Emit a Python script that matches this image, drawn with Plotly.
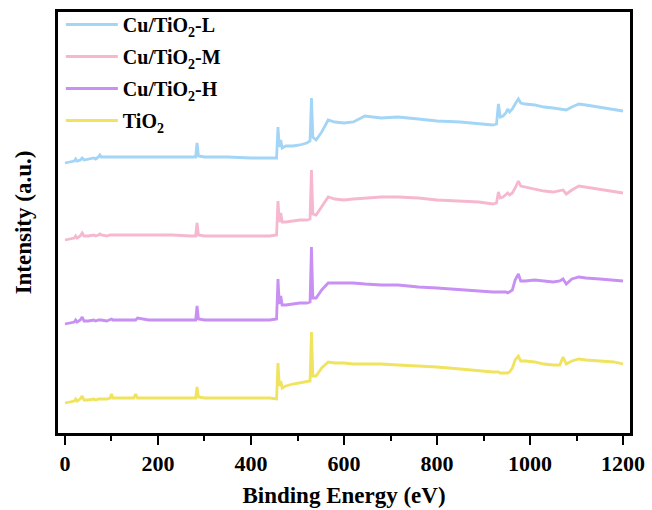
import plotly.graph_objects as go

energy = [0, 10, 20, 23, 26, 33, 37, 41, 50, 62,
          66, 72, 75, 78, 90, 97, 100, 103, 120, 148,
          152, 156, 180, 230, 270, 281, 284, 287, 300, 350,
          400, 440, 455, 458, 461, 464, 467, 475, 490, 505,
          520, 527, 530, 533, 540, 552, 566, 580, 600, 620,
          645, 680, 716, 760, 800, 850, 890, 920, 928, 932,
          936, 942, 948, 952, 956, 962, 968, 975, 980, 990,
          1010, 1030, 1050, 1064, 1071, 1078, 1090, 1105, 1120, 1150,
          1180, 1200]

cu_tio2_L = [270, 271, 272, 274, 272, 273, 275, 273, 274, 275,
             274, 276, 278, 276, 276, 276, 276, 276, 276, 276,
             276, 276, 276, 276, 276, 276, 290, 277, 276, 276,
             275, 275, 275, 306, 286, 293, 285, 287, 287, 288,
             290, 292, 335, 296, 293, 301, 313, 311, 310, 311,
             317, 315, 316, 314, 312, 311, 309, 308, 309, 329,
             316, 317, 320, 324, 321, 324, 329, 334, 330, 329,
             328, 326, 325, 324, 323, 323, 326, 329, 328, 326,
             324, 322]

cu_tio2_M = [193, 194, 195, 197, 195, 197, 200, 197, 197, 198,
             197, 198, 199, 198, 197, 198, 198, 198, 198, 198,
             198, 198, 198, 198, 197, 197, 210, 198, 197, 197,
             197, 197, 198, 232, 211, 220, 211, 211, 212, 213,
             213, 214, 263, 219, 218, 226, 236, 234, 233, 234,
             235, 236, 236, 235, 233, 232, 231, 229, 230, 241,
             235, 236, 238, 240, 238, 240, 245, 252, 247, 246,
             244, 242, 241, 242, 243, 239, 243, 247, 246, 244,
             242, 240]

cu_tio2_H = [109, 110, 111, 113, 111, 113, 116, 112, 112, 113,
             112, 113, 113, 113, 112, 113, 114, 113, 113, 113,
             113, 115, 113, 113, 113, 113, 127, 114, 113, 113,
             113, 113, 114, 154, 129, 137, 128, 128, 129, 130,
             130, 131, 186, 135, 135, 143, 150, 150, 150, 150,
             149, 148, 148, 146, 145, 143, 142, 141, 141, 141,
             141, 141, 141, 140, 141, 143, 153, 159, 152, 152,
             153, 152, 151, 152, 154, 149, 154, 156, 155, 154,
             153, 152]

tio2 = [30, 31, 32, 34, 32, 34, 37, 33, 33, 34,
        33, 34, 34, 34, 34, 35, 39, 35, 35, 35,
        39, 35, 35, 35, 35, 35, 46, 36, 35, 35,
        35, 35, 34, 70, 47, 52, 45, 47, 49, 50,
        51, 52, 101, 57, 57, 65, 71, 70, 70, 69,
        69, 69, 68, 67, 66, 64, 62, 61, 61, 61,
        60, 60, 60, 60, 61, 65, 73, 77, 72, 72,
        71, 69, 68, 68, 76, 69, 72, 74, 73, 72,
        71, 69]

series_names = ["Cu/TiO<sub>2</sub>-L", "Cu/TiO<sub>2</sub>-M",
                "Cu/TiO<sub>2</sub>-H", "TiO<sub>2</sub>"]
series_values = [cu_tio2_L, cu_tio2_M, cu_tio2_H, tio2]
colors = ["#a3d5f7", "#f6b8cf", "#c890f3", "#f0e35e"]

x_ticks = [0, 200, 400, 600, 800, 1000, 1200]

FONT = "Liberation Serif"

fig = go.Figure()
for i, (name, vals, col) in enumerate(zip(series_names, series_values, colors)):
    fig.add_trace(go.Scatter(
        x=energy, y=vals, mode="lines", name=name,
        line=dict(color=col, width=2.8),
        legendgroup=f"g{i}",
    ))

fig.update_layout(
    width=652, height=510,
    margin=dict(l=58, r=22, t=2, b=77),
    plot_bgcolor="white", paper_bgcolor="white",
    font=dict(family=FONT, color="black"),
    showlegend=True,
    legend=dict(
        x=0.005, y=0.993, xanchor="left", yanchor="top",
        font=dict(family=FONT, size=20, color="black", weight="bold"),
        bgcolor="rgba(0,0,0,0)", borderwidth=0,
        traceorder="grouped", tracegroupgap=3,
        itemwidth=52,
    ),
    xaxis=dict(
        range=[-15, 1215],
        tickmode="array", tickvals=x_ticks,
        ticktext=[str(v) for v in x_ticks],
        ticks="outside", ticklen=9, tickwidth=2, tickcolor="black",
        minor=dict(ticks="outside", ticklen=5, tickwidth=2, tickcolor="black",
                   tickmode="array", tickvals=[100, 300, 500, 700, 900, 1100]),
        showline=True, linewidth=2.5, linecolor="black", mirror=True,
        showgrid=False, zeroline=False,
        tickfont=dict(family=FONT, size=22, color="black", weight="bold"),
        title=dict(text="Binding Energy (eV)",
                   font=dict(family=FONT, size=23, color="black", weight="bold"),
                   standoff=12),
    ),
    yaxis=dict(
        range=[0, 421],
        domain=[0, 421 / 431],
        showticklabels=False, ticks="",
        showline=True, linewidth=2.5, linecolor="black", mirror=True,
        showgrid=False, zeroline=False,
        title=dict(text="Intensity (a.u.)",
                   font=dict(family=FONT, size=23, color="black", weight="bold"),
                   standoff=18),
    ),
)

fig.write_html("out.html")
